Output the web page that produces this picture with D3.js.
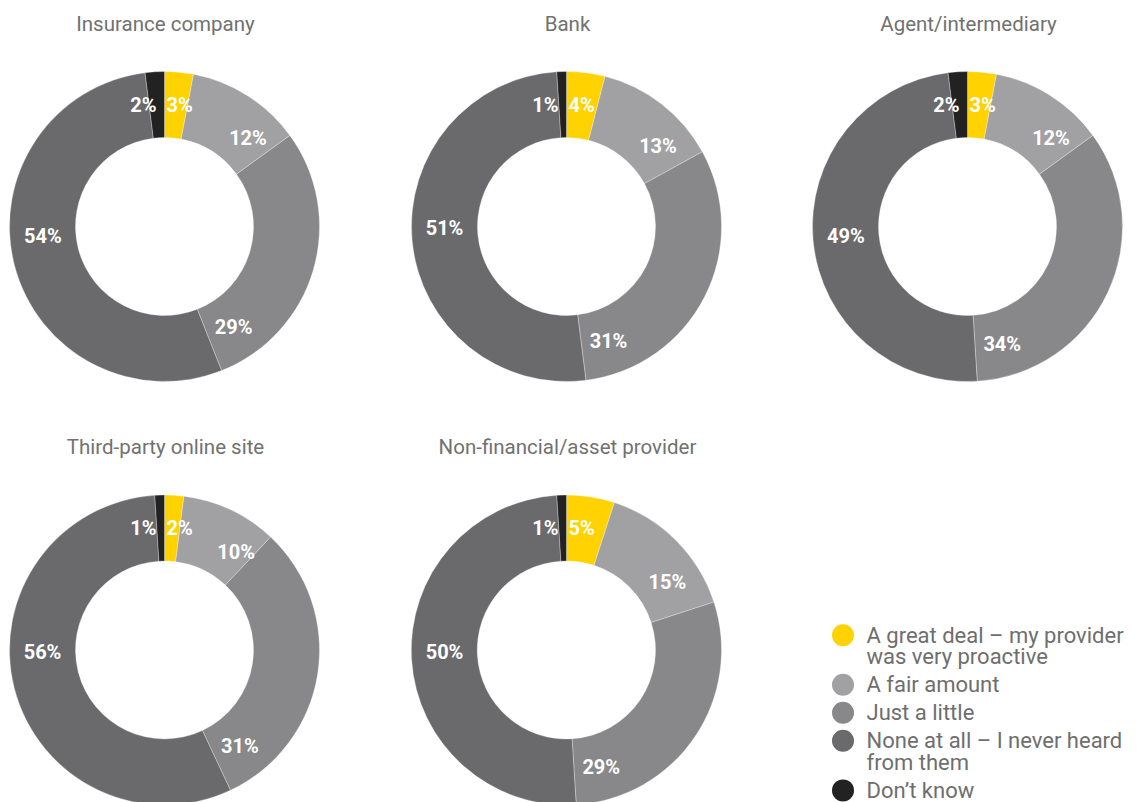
<!DOCTYPE html>
<html>
<head>
<meta charset="utf-8">
<script src="https://cdn.jsdelivr.net/npm/d3@7"></script>
<style>
  html, body { margin: 0; padding: 0; background: #fff; }
  svg { display: block; }
</style>
</head>
<body>
<svg id="chart" width="1139" height="802"></svg>
<script>
// Response categories, in the order they run clockwise from 12 o'clock
const categories = [
  "A great deal – my provider was very proactive",
  "A fair amount",
  "Just a little",
  "None at all – I never heard from them",
  "Don’t know"
];
// Legend text, broken into display lines
const legendLines = [
  ["A great deal – my provider", "was very proactive"],
  ["A fair amount"],
  ["Just a little"],
  ["None at all – I never heard", "from them"],
  ["Don’t know"]
];

// Provider types (one donut each)
const providers = [
  "Insurance company",
  "Bank",
  "Agent/intermediary",
  "Third-party online site",
  "Non-financial/asset provider"
];

// Share of respondents (%) per provider, in category order
const insuranceCompany = [3, 12, 29, 54, 2];
const bank = [4, 13, 31, 51, 1];
const agentIntermediary = [3, 12, 34, 49, 2];
const thirdPartyOnline = [2, 10, 31, 56, 1];
const nonFinancialAsset = [5, 15, 29, 50, 1];

const seriesValues = [insuranceCompany, bank, agentIntermediary, thirdPartyOnline, nonFinancialAsset];

// ---- styling / layout ----
const colors = ["#FFD200", "#A1A1A3", "#88888A", "#6A6A6C", "#222222"];
const fontFamily = "Roboto, 'Open Sans', sans-serif";
const titleColor = "#717171";

const outerR = 155, innerR = 89, labelR = 122;
const cellCenters = [
  [164.5, 226.5], [566.5, 226.5], [967.5, 226.5],
  [164.5, 650], [566.5, 650]
];

const svg = d3.select("#chart");

const color = d3.scaleOrdinal().domain(categories).range(colors);

const pie = d3.pie()
  .sort(null)
  .value(d => d.value);

const arc = d3.arc().innerRadius(innerR).outerRadius(outerR);

const TAU = 2 * Math.PI;
// Angle (radians, clockwise from top) at which each slice's value label sits
function labelAngle(d, i) {
  const mid = (d.startAngle + d.endAngle) / 2;
  if (i === 1) return mid + 0.03 * TAU;
  if (i === 2) return d.endAngle - 0.036 * TAU;
  if (i === 3) return d.endAngle - 0.242 * TAU;
  return mid;
}

providers.forEach((name, k) => {
  const [cx, cy] = cellCenters[k];
  const data = categories.map((c, i) => ({ category: c, value: seriesValues[k][i] }));
  const arcs = pie(data);

  const g = svg.append("g").attr("transform", `translate(${cx},${cy})`);

  g.append("text")
    .attr("x", 1)
    .attr("y", -outerR - 41)
    .attr("text-anchor", "middle")
    .attr("font-family", fontFamily)
    .attr("font-size", 20.5)
    .attr("fill", titleColor)
    .text(name);

  g.selectAll("path.slice")
    .data(arcs)
    .join("path")
    .attr("class", "slice")
    .attr("d", arc)
    .attr("fill", d => color(d.data.category))
    .attr("stroke", "#ffffff")
    .attr("stroke-opacity", 0.5)
    .attr("stroke-width", 0.6);

  g.selectAll("text.value")
    .data(arcs)
    .join("text")
    .attr("class", "value")
    .attr("font-family", fontFamily)
    .attr("font-weight", 700)
    .attr("font-size", 20)
    .attr("fill", "#ffffff")
    .attr("dy", "0.36em")
    .each(function (d, i) {
      const t = d3.select(this);
      if (i === 0) {
        // narrow first slice: label starts just right of 12 o'clock
        t.attr("x", 2).attr("y", -labelR).attr("text-anchor", "start");
      } else if (i === 4) {
        // narrow last slice: label ends just left of 12 o'clock
        t.attr("x", -8).attr("y", -labelR).attr("text-anchor", "end");
      } else {
        const a = labelAngle(d, i);
        t.attr("x", labelR * Math.sin(a))
         .attr("y", -labelR * Math.cos(a))
         .attr("text-anchor", "middle");
      }
    })
    .text(d => d.data.value + "%");
});

// ---- legend ----
const legend = svg.append("g").attr("transform", "translate(843,0)");
const lineH = 21.6, itemGap = 28;
let baseline = 642.7;
categories.forEach((c, i) => {
  const item = legend.append("g");
  item.append("circle")
    .attr("cx", 0)
    .attr("cy", baseline - 7.5)
    .attr("r", 11)
    .attr("fill", color(c));
  const label = item.append("text")
    .attr("x", 23.5)
    .attr("y", baseline)
    .attr("font-family", fontFamily)
    .attr("font-size", 22)
    .attr("fill", "#6E6E6E");
  legendLines[i].forEach((line, j) => {
    label.append("tspan")
      .attr("x", 23.5)
      .attr("dy", j === 0 ? 0 : lineH)
      .text(line);
  });
  baseline += (legendLines[i].length - 1) * lineH + itemGap;
});
</script>
</body>
</html>
